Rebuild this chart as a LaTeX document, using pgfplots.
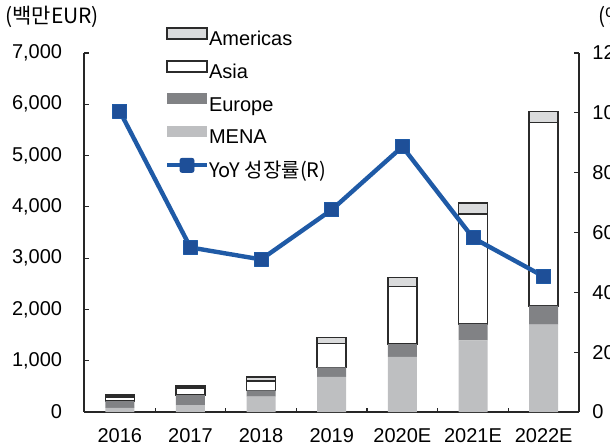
\documentclass[border=0pt]{standalone}
\usepackage{fontspec}
\setmainfont{Liberation Sans}
\newfontfamily\kr{Noto Sans CJK KR}
\usepackage{pgfplots}
\pgfplotsset{compat=1.18}
\definecolor{mena}{HTML}{BEBFC1}
\definecolor{europe}{HTML}{818285}
\definecolor{amer}{HTML}{DADBDC}
\definecolor{edge}{HTML}{2B2B2B}
\definecolor{lineblue}{HTML}{1F5AA6}
\definecolor{markblue}{HTML}{1E4F98}
\begin{document}
\begin{tikzpicture}
\begin{axis}[
  at={(0,0)}, anchor=south west,
  scale only axis, width=247.25pt, height=179.5pt,
  xmin=-0.5, xmax=6.5, ymin=0, ymax=7000,
  axis x line*=bottom, axis y line*=left,
  axis line style={line width=1pt, draw=black!85},
  ybar stacked, bar width=14.5pt,
  xtick={0,...,6}, xticklabels={2016,2017,2018,2019,2020E,2021E,2022E},
  minor xtick={0.5,1.5,2.5,3.5,4.5,5.5},
  every major x tick/.style={draw=none},
  ytick={0,1000,...,7000},
  tick align=inside, major tick length=2.5pt, minor tick length=2pt,
  tick style={line width=0.6pt, black!85},
  /pgf/number format/assume math mode=true,
  /pgf/number format/1000 sep={,},
  yticklabel style={inner sep=0pt, xshift=-11pt},
  xticklabel style={inner sep=0pt, yshift=-8pt},
  reverse legend,
  legend style={draw=none, fill=none, at={(0.1628,1.072)}, anchor=north west,
    inner sep=0pt, outer sep=0pt,
    nodes={inner sep=0pt, text height=7pt, text depth=2pt},
    row sep=5.25pt,
    /tikz/every even column/.append style={column sep=1.5pt}},
  legend cell align=left,
]
\addlegendimage{legend image code/.code={
  \draw[line width=2pt, lineblue] (0pt,3.6pt) -- (20pt,3.6pt);
  \fill[markblue, rounded corners=1pt] (6.5pt,0.1pt) rectangle (13.5pt,7.1pt);}}
\addlegendentry{\kr YoY 성장률(R)}
\addplot[fill=mena, draw=none, legend image code/.code={\fill[mena] (0pt,0.9pt) rectangle (20pt,6.4pt);}]
  coordinates {(0,80) (1,136) (2,298) (3,687) (4,1076) (5,1395) (6,1706)};
\addlegendentry{MENA}
\addplot[fill=europe, draw=none, legend image code/.code={\fill[europe] (0pt,0.9pt) rectangle (20pt,6.4pt);}]
  coordinates {(0,134) (1,194) (2,124) (3,182) (4,247) (5,325) (6,362)};
\addlegendentry{Europe}
\addplot[fill=white, draw=edge, line width=0.8pt, legend image code/.code={\draw[fill=white, draw=edge, line width=0.8pt] (0pt,0.9pt) rectangle (20pt,6.4pt);}]
  coordinates {(0,78) (1,143) (2,187) (3,467) (4,1128) (5,2140) (6,3574)};
\addlegendentry{Asia}
\addplot[fill=amer, draw=edge, line width=0.8pt, legend image code/.code={\draw[fill=amer, draw=edge, line width=0.8pt] (0pt,0.9pt) rectangle (20pt,6.4pt);}]
  coordinates {(0,38) (1,39) (2,78) (3,117) (4,169) (5,212) (6,214)};
\addlegendentry{Americas}
\end{axis}
\begin{axis}[
  at={(0,0)}, anchor=south west,
  scale only axis, width=247.25pt, height=179.5pt,
  xmin=-0.5, xmax=6.5, ymin=0, ymax=120,
  axis y line*=right, axis x line=none,
  axis line style={line width=1pt, draw=black!85},
  ytick={0,20,...,120},
  tick align=inside, major tick length=2.5pt,
  tick style={line width=0.6pt, black!85},
  /pgf/number format/assume math mode=true,
  yticklabel style={inner sep=0pt, xshift=6.5pt},
]
\addplot[line width=2.2pt, color=lineblue, line join=round, mark=square*, mark size=3.5pt,
  mark options={fill=markblue, draw=lineblue, line width=0.5pt, rounded corners=1pt}]
  coordinates {(0,100.5) (1,55) (2,51) (3,67.6) (4,88.7) (5,58.2) (6,45.3)};
\end{axis}
\node[anchor=west, inner sep=0pt] at (-39.75pt,197.5pt) {\kr\fontsize{10.5}{12}\selectfont (백만EUR)};
\node[anchor=west, inner sep=0pt] at (256.75pt,197.5pt) {\kr\fontsize{10.5}{12}\selectfont (\%)};
\pgfresetboundingbox
\useasboundingbox (-42.25pt,-17.5pt) rectangle (262.75pt,206pt);
\end{tikzpicture}
\end{document}
